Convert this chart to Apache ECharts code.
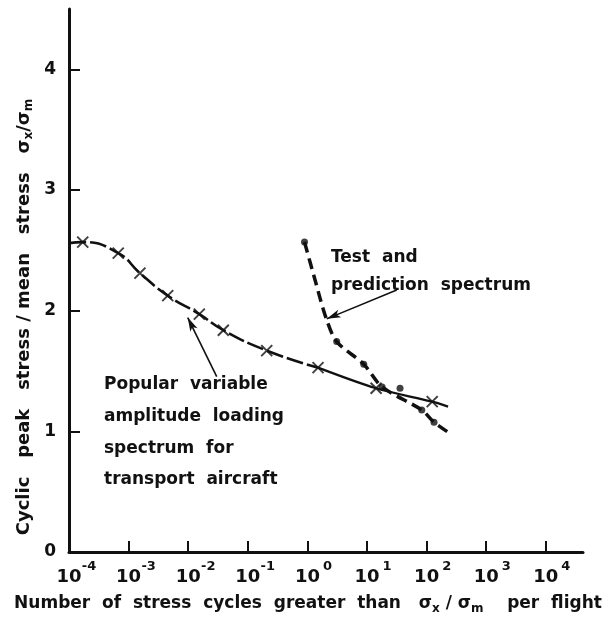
<!DOCTYPE html>
<html><head><meta charset="utf-8">
<script src="https://cdn.jsdelivr.net/npm/echarts@6/dist/echarts.min.js"></script>
<style>html,body{margin:0;padding:0;background:#fff}#c{width:610px;height:617px}</style>
</head><body><div id="c"></div>
<script>
// ---- tick values ----
const xTickValues = [1e-4, 1e-3, 1e-2, 1e-1, 1, 10, 100, 1000, 10000];
const yTickValues = [0, 1, 2, 3, 4];

// ---- popular variable amplitude loading spectrum (crosses) ----
// left part of the curve (drawn with long dashes) and right part (solid)
const popularLeftN = [1e-4, 1.70e-4, 6.7e-4, 1.55e-3, 4.53e-3, 0.01535, 0.0388, 0.2075, 1.507];
const popularLeftY = [2.56, 2.568, 2.477, 2.311, 2.125, 1.971, 1.838, 1.669, 1.528];
const popularRightN = [0.2075, 1.507, 14.2, 124, 229];
const popularRightY = [1.669, 1.528, 1.357, 1.246, 1.205];
const popularCrossN = [1.70e-4, 6.7e-4, 1.55e-3, 4.53e-3, 0.01535, 0.0388, 0.2075, 1.507, 14.2, 124];
const popularCrossY = [2.568, 2.477, 2.311, 2.125, 1.971, 1.838, 1.669, 1.528, 1.357, 1.246];

// ---- test and prediction spectrum (dots) ----
const testCurveN = [0.893, 1.35, 2.05, 3.10, 8.81, 17.9, 82.8, 133, 238];
const testCurveY = [2.569, 2.25, 1.94, 1.744, 1.556, 1.368, 1.177, 1.076, 0.987];
const testDotN = [0.893, 3.10, 8.81, 17.9, 35.8, 82.8, 133];
const testDotY = [2.569, 1.744, 1.556, 1.368, 1.357, 1.177, 1.076];

// ---- annotation leader arrows (data coordinates: from -> to) ----
const arrowPopularFrom = [0.0301, 1.454];
const arrowPopularTo = [0.00982, 1.943];
const arrowTestFrom = [31.5, 2.172];
const arrowTestTo = [2.11, 1.932];

const FONT = '"DejaVu Sans", sans-serif';
const INK = '#111';
const zip = (a, b) => a.map((v, i) => [v, b[i]]);

const chart = echarts.init(document.getElementById('c'), null, {renderer: 'canvas'});
chart.setOption({
  animation: false,
  backgroundColor: '#fff',
  grid: {left: 69, right: 27, top: 9, bottom: 65, containLabel: false},
  xAxis: {
    type: 'log', logBase: 10, min: 1e-4, max: 42000,
    axisLine: {show: true, lineStyle: {color: INK, width: 3}},
    axisTick: {show: true, inside: true, length: 11, lineStyle: {color: INK, width: 2},
      customValues: xTickValues.slice(1)},
    splitLine: {show: false},
    axisLabel: {
      customValues: xTickValues, margin: 8, color: INK,
      formatter: v => {
        const e = Math.round(Math.log10(v));
        return '{p|}{b|10}{s|' + (e < 0 ? '-' : '') + Math.abs(e) + '}';
      },
      rich: {
        p: {width: 15, lineHeight: 26},
        b: {fontSize: 18, fontWeight: 'bold', fontFamily: FONT, color: INK, lineHeight: 19, verticalAlign: 'bottom'},
        s: {fontSize: 13, fontWeight: 'bold', fontFamily: FONT, color: INK, width: 15, align: 'left', lineHeight: 13, verticalAlign: 'top'}
      }
    }
  },
  yAxis: {
    type: 'value', min: 0, max: 4.5,
    axisLine: {show: true, lineStyle: {color: INK, width: 3}},
    axisTick: {show: true, inside: true, length: 11, lineStyle: {color: INK, width: 2},
      customValues: yTickValues.slice(1)},
    splitLine: {show: false},
    axisLabel: {customValues: yTickValues, margin: 13, color: INK, fontSize: 17, fontWeight: 'bold', fontFamily: FONT}
  },
  series: [
    {
      type: 'line', name: 'Popular spectrum (left)', data: zip(popularLeftN, popularLeftY),
      showSymbol: false, smooth: 0.5, silent: true,
      lineStyle: {color: INK, width: 2.6, type: [17, 4]}
    },
    {
      type: 'line', name: 'Popular spectrum (right)', data: zip(popularRightN, popularRightY).slice(1),
      showSymbol: false, smooth: 0.3, silent: true,
      lineStyle: {color: INK, width: 2.3}
    },
    {
      type: 'scatter', name: 'Popular points', data: zip(popularCrossN, popularCrossY),
      symbol: 'path://M0,0L10,10M10,0L0,10', symbolSize: 11, silent: true,
      itemStyle: {color: 'transparent', borderColor: INK, borderWidth: 2}
    },
    {
      type: 'line', name: 'Test spectrum', data: zip(testCurveN, testCurveY),
      showSymbol: false, smooth: 0.3, silent: true,
      lineStyle: {color: INK, width: 3.5, type: [11, 6]}
    },
    {
      type: 'scatter', name: 'Test points', data: zip(testDotN, testDotY),
      symbol: 'circle', symbolSize: 7, silent: true,
      itemStyle: {color: INK}
    },
    {
      type: 'line', name: 'arrows', data: [], silent: true,
      markLine: {
        silent: true, animation: false,
        symbol: ['none', 'arrow'], symbolSize: [6, 14],
        label: {show: false},
        lineStyle: {color: INK, width: 1.6, type: 'solid'},
        emphasis: {disabled: true},
        data: [
          [{coord: arrowPopularFrom}, {coord: arrowPopularTo}],
          [{coord: arrowTestFrom}, {coord: arrowTestTo}]
        ]
      }
    }
  ],
  graphic: [
    {type: 'text', x: 331, y: 258, silent: true,
      style: {text: 'Test  and', font: 'bold 17px ' + FONT, fill: INK, align: 'left', verticalAlign: 'middle'}},
    {type: 'text', x: 331, y: 286, silent: true,
      style: {text: 'prediction  spectrum', font: 'bold 17px ' + FONT, fill: INK, align: 'left', verticalAlign: 'middle'}},
    {type: 'text', x: 104, y: 385, silent: true,
      style: {text: 'Popular  variable', font: 'bold 17px ' + FONT, fill: INK, align: 'left', verticalAlign: 'middle'}},
    {type: 'text', x: 104, y: 417, silent: true,
      style: {text: 'amplitude  loading', font: 'bold 17px ' + FONT, fill: INK, align: 'left', verticalAlign: 'middle'}},
    {type: 'text', x: 104, y: 449, silent: true,
      style: {text: 'spectrum  for', font: 'bold 17px ' + FONT, fill: INK, align: 'left', verticalAlign: 'middle'}},
    {type: 'text', x: 104, y: 480, silent: true,
      style: {text: 'transport  aircraft', font: 'bold 17px ' + FONT, fill: INK, align: 'left', verticalAlign: 'middle'}},
    {type: 'text', x: 24, y: 317, rotation: Math.PI / 2, silent: true,
      style: {
        text: '{t|Cyclic   peak   stress / mean   stress   σ}{u|x}{t|/σ}{u|m}',
        align: 'center', verticalAlign: 'middle',
        rich: {
          t: {fontSize: 18, fontWeight: 'bold', fontFamily: FONT, fill: INK, color: INK, lineHeight: 22},
          u: {fontSize: 12, fontWeight: 'bold', fontFamily: FONT, fill: INK, color: INK, lineHeight: 12, verticalAlign: 'bottom'}
        }
      }},
    {type: 'text', x: 308, y: 604, silent: true,
      style: {
        text: '{t|Number  of  stress  cycles  greater  than   σ}{u|x}{t| / σ}{u|m}{t|    per  flight}',
        align: 'center', verticalAlign: 'middle',
        rich: {
          t: {fontSize: 17, fontWeight: 'bold', fontFamily: FONT, fill: INK, color: INK, lineHeight: 22},
          u: {fontSize: 12, fontWeight: 'bold', fontFamily: FONT, fill: INK, color: INK, lineHeight: 12, verticalAlign: 'bottom'}
        }
      }}
  ]
});
</script></body></html>
